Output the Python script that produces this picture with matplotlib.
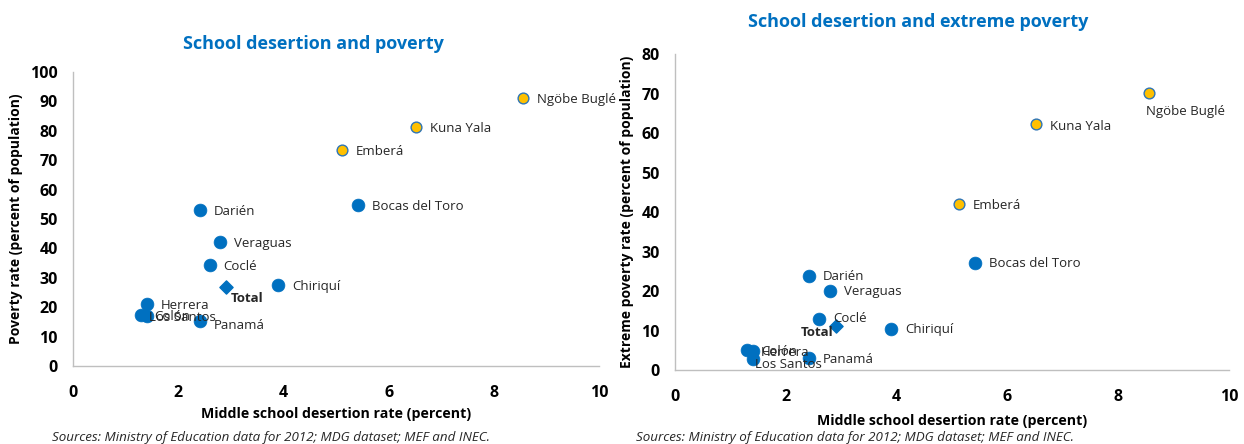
import matplotlib
matplotlib.use("Agg")
import matplotlib.pyplot as plt

plt.rcParams['font.family'] = ['Open Sans', 'DejaVu Sans']

regions = ["Ngöbe Buglé", "Kuna Yala", "Emberá", "Bocas del Toro", "Darién",
           "Veraguas", "Coclé", "Chiriquí", "Herrera", "Colón", "Los Santos", "Panamá"]
desertion = [8.55, 6.52, 5.12, 5.42, 2.42, 2.8, 2.6, 3.9, 1.4, 1.3, 1.4, 2.42]
poverty = [91.0, 81.3, 73.3, 54.8, 53.0, 42.3, 34.3, 27.6, 21.0, 17.3, 17.0, 15.3]
extreme_poverty = [70.1, 62.3, 42.1, 27.2, 23.9, 20.1, 13.0, 10.5, 4.8, 5.0, 2.8, 3.1]
indigenous = [True, True, True, False, False, False, False, False, False, False, False, False]
total_desertion = 2.9
total_poverty = 26.8
total_extreme = 11.2

BLUE = "#0070C0"
YELLOW = "#FFC000"

# label offsets (points)
off_left = {"Ngöbe Buglé": (10, -1), "Kuna Yala": (10, -1), "Emberá": (10, -1),
            "Bocas del Toro": (10, -1), "Darién": (10, -1), "Veraguas": (10, -1),
            "Coclé": (10, -1), "Chiriquí": (10, -1), "Herrera": (10, -1),
            "Colón": (9, -1), "Los Santos": (2, -1), "Panamá": (10, -3)}
off_right = {"Ngöbe Buglé": (-2, -13), "Kuna Yala": (10, -2), "Emberá": (10, -1),
             "Bocas del Toro": (10, -1), "Darién": (10, -1), "Veraguas": (10, -1),
             "Coclé": (10, 0), "Chiriquí": (10, -1), "Herrera": (6, -1),
             "Colón": (10, -1), "Los Santos": (2, -4), "Panamá": (10, -1)}

fig = plt.figure(figsize=(12.44, 4.44), dpi=100)
W, H = 1244, 444

def px_axes(l, t, r, b):
    return fig.add_axes([l / W, 1 - b / H, (r - l) / W, (b - t) / H])

def style(ax, ymax, ystep):
    for s in ["top", "right"]:
        ax.spines[s].set_visible(False)
    for s in ["left", "bottom"]:
        ax.spines[s].set_color("#BFBFBF")
        ax.spines[s].set_linewidth(1.0)
    ax.set_xlim(0, 10)
    ax.set_ylim(0, ymax)
    ax.set_xticks(range(0, 11, 2))
    ax.set_yticks(range(0, ymax + 1, ystep))
    ax.tick_params(axis="y", length=0, labelsize=11.5, pad=11)
    ax.tick_params(axis="x", length=0, labelsize=11.5, pad=14)
    for lab in ax.get_xticklabels() + ax.get_yticklabels():
        lab.set_fontweight("bold")

def draw(ax, yvals, tot_y, offs, total_off):
    for name, x, y, ind in zip(regions, desertion, yvals, indigenous):
        if ind:
            ax.scatter(x, y, s=60, color=YELLOW, edgecolor="#2E75B6", linewidth=1.0, zorder=3)
        else:
            ax.scatter(x, y, s=85, color=BLUE, edgecolor=BLUE, linewidth=0.5, zorder=3)
        dx, dy = offs[name]
        ax.annotate(name, (x, y), xytext=(dx, dy), textcoords="offset points",
                    fontsize=9.5, color="#262626", va="center", ha="left", zorder=4)
    ax.scatter(total_desertion, tot_y, s=45, marker="D", color=BLUE, zorder=3)
    ax.annotate("Total", (total_desertion, tot_y), xytext=total_off, textcoords="offset points",
                fontsize=9.5, fontweight="bold", color="#262626", va="center", ha="left", zorder=4)

ax1 = px_axes(73, 72, 599, 366)
style(ax1, 100, 10)
draw(ax1, poverty, total_poverty, off_left, (4, -8))
ax1.set_ylabel("Poverty rate (percent of population)", fontsize=10, fontweight="bold", labelpad=5)
ax1.set_xlabel("Middle school desertion rate (percent)", fontsize=10.2, fontweight="bold", labelpad=4)

ax2 = px_axes(675, 54, 1229, 370)
style(ax2, 80, 10)
draw(ax2, extreme_poverty, total_extreme, off_right, (-25, -5))
ax2.set_ylabel("Extreme poverty rate (percent of population)", fontsize=10, fontweight="bold", labelpad=5)
ax2.set_xlabel("Middle school desertion rate (percent)", fontsize=10.2, fontweight="bold", labelpad=6)

fig.text(313 / W, 1 - 44 / H, "School desertion and poverty", color=BLUE, fontsize=13,
         fontweight="bold", ha="center", va="center")
fig.text(918 / W, 1 - 22 / H, "School desertion and extreme poverty", color=BLUE, fontsize=13,
         fontweight="bold", ha="center", va="center")
src = "Sources: Ministry of Education data for 2012; MDG dataset; MEF and INEC."
fig.text(52 / W, 1 - 437 / H, src, fontsize=9.6, style="italic", color="#262626", va="center")
fig.text(636 / W, 1 - 437 / H, src, fontsize=9.6, style="italic", color="#262626", va="center")

fig.savefig("out.png", dpi=100)
